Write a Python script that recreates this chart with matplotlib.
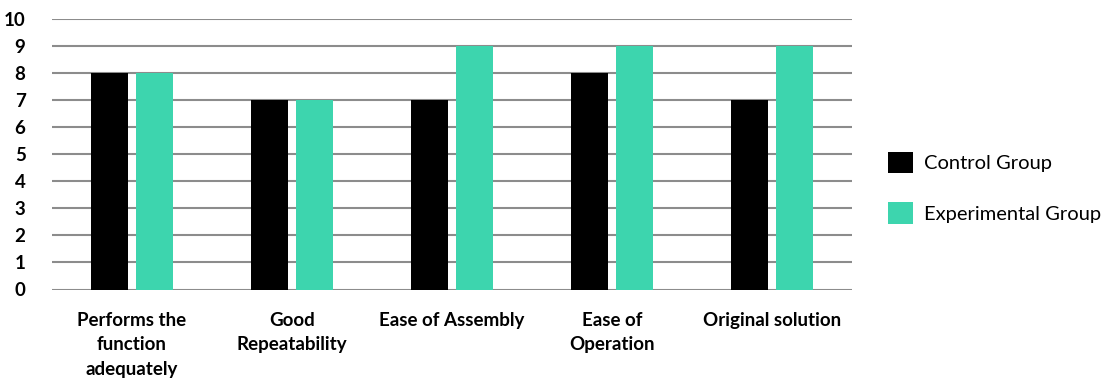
import matplotlib
matplotlib.use("Agg")
import matplotlib.pyplot as plt
import numpy as np

categories = ["Performs the\nfunction\nadequately", "Good\nRepeatability", "Ease of Assembly",
              "Ease of\nOperation", "Original solution"]
control = [8, 7, 7, 8, 7]
experimental = [8, 7, 9, 9, 9]
series_names = ["Control Group", "Experimental Group"]
yticks = list(range(0, 11))

plt.rcParams['font.family'] = ['Lato', 'DejaVu Sans']

fig = plt.figure(figsize=(11.18, 3.8), dpi=100)
ax = fig.add_axes([52/1118, 90.5/380, 800/1118, 271/380])

x = np.arange(len(categories))
w = 0.23
off = 0.14
ax.bar(x - off, control, width=w, color="#000000", label=series_names[0], zorder=3)
ax.bar(x + off, experimental, width=w, color="#3dd5ae", label=series_names[1], zorder=3)

ax.set_xlim(-0.5, len(categories) - 0.5)
ax.set_ylim(0, 10)
ax.set_yticks(yticks)
ax.yaxis.grid(True, color="#8c8c8c", linewidth=1.5, zorder=0)
ax.set_axisbelow(True)
for s in ax.spines.values():
    s.set_visible(False)
ax.tick_params(axis='y', length=0, pad=19, labelsize=13.5)
ax.tick_params(axis='x', length=0, pad=16, labelsize=13.5)
ax.set_xticks(x)
ax.set_xticklabels(categories, fontweight='bold', linespacing=1.55)
for t in ax.get_yticklabels():
    t.set_fontweight('bold')

leg = ax.legend(loc='center left', bbox_to_anchor=(1.035, 0.376), frameon=False,
                fontsize=14.5, handlelength=1.25, handleheight=1.25, handletextpad=0.55,
                labelspacing=1.45, borderaxespad=0)

fig.savefig("out.png", dpi=100)
